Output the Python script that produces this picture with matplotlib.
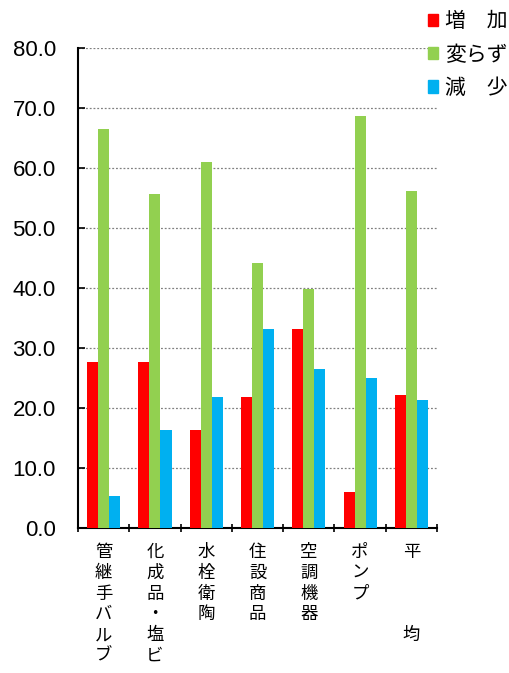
import numpy as np
import matplotlib
matplotlib.use("Agg")
import matplotlib.pyplot as plt
from matplotlib.patches import Patch

plt.rcParams['font.family'] = ['Noto Sans CJK JP', 'DejaVu Sans']

# data
categories = ["管\n継\n手\nバ\nル\nブ", "化\n成\n品\n・\n塩\nビ", "水\n栓\n衛\n陶",
              "住\n設\n商\n品", "空\n調\n機\n器", "ポ\nン\nプ", "平\n\n\n\n均"]
series_names = ["増　加", "変らず", "減　少"]
increase = [27.7, 27.7, 16.4, 21.9, 33.2, 6.0, 22.2]
unchanged = [66.5, 55.6, 61.0, 44.2, 39.9, 68.7, 56.1]
decrease = [5.4, 16.4, 21.9, 33.2, 26.5, 25.0, 21.3]
colors = ["#ff0000", "#92d050", "#00b0f0"]
yticks = [0, 10, 20, 30, 40, 50, 60, 70, 80]

fig = plt.figure(figsize=(5.1, 6.73), dpi=100)
ax = fig.add_axes([0.153, 0.2155, 0.704, 0.7132])

x = np.arange(len(categories))
w = 0.215
for i, (vals, c) in enumerate(zip([increase, unchanged, decrease], colors)):
    ax.bar(x + (i - 1) * w, vals, width=w, color=c, zorder=3)

ax.set_xlim(-0.5, len(categories) - 0.5)
ax.set_ylim(0, 80)

# y axis
ax.set_yticks(yticks)
ax.set_yticklabels(["%.1f" % v for v in yticks], family="Liberation Sans", fontsize=16)
ax.tick_params(axis="y", direction="in", length=5, width=1.2, pad=16)
for v in yticks[1:]:
    ax.axhline(v, color="#808080", linestyle=(0, (1.5, 1.5)), linewidth=0.9, zorder=1)

# x axis: ticks at category boundaries, labels stacked vertically
ax.set_xticks(np.arange(len(categories) + 1) - 0.5)
ax.set_xticklabels([])
ax.tick_params(axis="x", direction="inout", length=6, width=1.2)
for xi, lab in zip(x, categories):
    ax.text(xi, -2.5, lab, ha="center", va="top", fontsize=12.5,
            linespacing=1.2, transform=ax.transData)

for s in ["top", "right"]:
    ax.spines[s].set_visible(False)
for s in ["left", "bottom"]:
    ax.spines[s].set_linewidth(1.5)

handles = [Patch(color=c) for c in colors]
fig.legend(handles, series_names, loc="upper left", bbox_to_anchor=(0.822, 0.997),
           frameon=False, fontsize=15, handlelength=0.52, handleheight=0.52,
           handletextpad=0.33, labelspacing=0.54, borderaxespad=0)

fig.savefig("out.png", dpi=100)
